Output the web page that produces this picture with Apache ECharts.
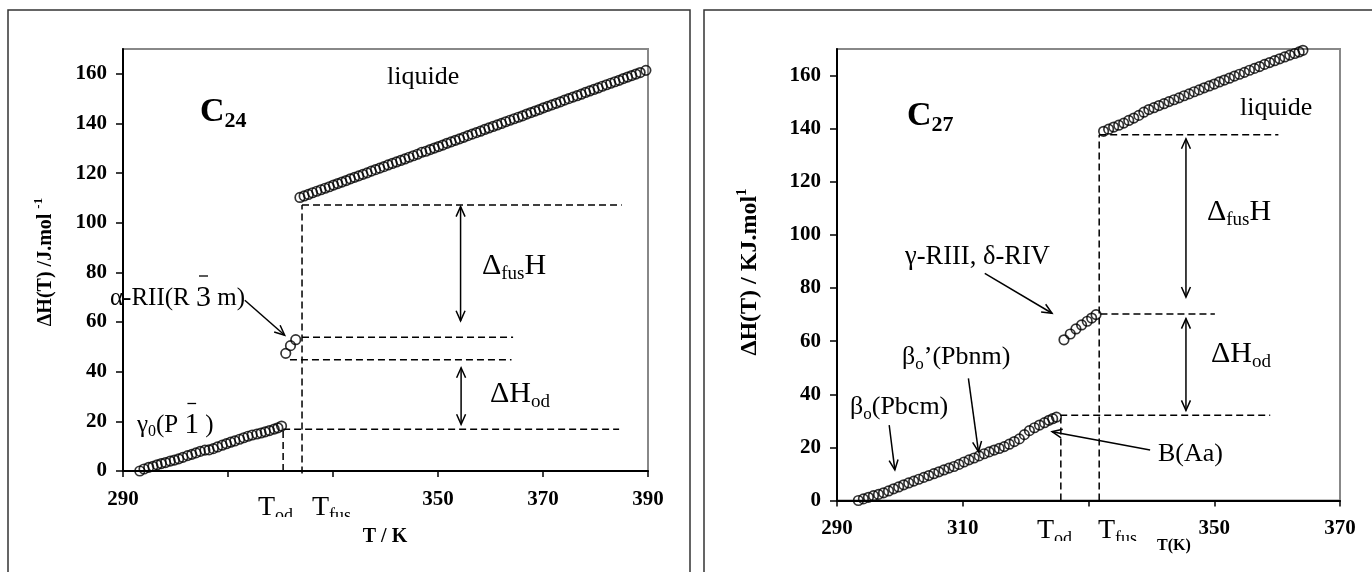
<!DOCTYPE html>
<html><head><meta charset="utf-8">
<script src="https://cdn.jsdelivr.net/npm/echarts@6/dist/echarts.min.js"></script>
<style>html,body{margin:0;padding:0;background:#fff}#c{width:1372px;height:572px}</style>
</head><body><div id="c"></div>
<script>
// ---------------- DATA ----------------
const yTicks = [0, 20, 40, 60, 80, 100, 120, 140, 160];
const xTicksC24 = [290, 310, 330, 350, 370, 390];
const xTicksC27 = [290, 310, 330, 350, 370];
const hiddenXLabelsC24 = [310, 330];
const hiddenXLabelsC27 = [330];

// C24 : gamma0 (P-1) solid phase
const c24SolidT = [293.2,294.0,294.9,295.7,296.5,297.3,298.1,299.0,299.8,300.6,301.4,302.3,303.1,303.9,304.7,305.6,306.4,307.2,308.0,308.9,309.7,310.5,311.3,312.2,313.0,313.8,314.6,315.5,316.3,317.1,317.9,318.8,319.5,320.2];
const c24SolidH = [0.0,0.8,1.5,1.9,2.5,3.0,3.4,4.0,4.4,4.9,5.5,6.2,6.7,7.3,7.9,8.4,8.5,9.0,9.7,10.4,11.0,11.6,12.1,12.8,13.4,14.0,14.5,14.9,15.3,15.8,16.3,16.9,17.4,18.1];
// C24 : alpha-RII rotator phase
const c24RotT = [321.0, 321.9, 322.9];
const c24RotH = [47.4, 50.5, 52.9];
// C24 : liquid
const c24LiqT = [323.7,324.5,325.3,326.1,326.9,327.7,328.5,329.3,330.1,330.9,331.7,332.5,333.3,334.1,334.9,335.7,336.5,337.3,338.1,338.9,339.7,340.5,341.3,342.1,342.9,343.7,344.5,345.3,346.1,346.9,347.7,348.5,349.3,350.1,350.9,351.7,352.5,353.3,354.1,354.9,355.7,356.5,357.3,358.1,358.9,359.7,360.5,361.3,362.1,362.9,363.7,364.5,365.3,366.1,366.9,367.7,368.5,369.3,370.1,370.9,371.7,372.5,373.3,374.1,374.9,375.7,376.5,377.3,378.1,378.9,379.7,380.5,381.3,382.1,382.9,383.7,384.5,385.3,386.1,386.9,387.7,388.5,389.6];
const c24LiqH = [110.2,110.8,111.4,112.1,112.7,113.3,113.9,114.5,115.2,115.8,116.4,117.0,117.7,118.3,118.9,119.5,120.1,120.8,121.4,122.0,122.6,123.3,123.9,124.5,125.1,125.7,126.4,127.0,127.6,128.4,128.8,129.5,130.1,130.7,131.3,132.0,132.6,133.2,133.8,134.4,135.1,135.7,136.3,136.9,137.6,138.2,138.8,139.4,140.0,140.7,141.3,141.9,142.5,143.1,143.8,144.4,145.0,145.6,146.3,146.9,147.5,148.1,148.7,149.4,150.0,150.6,151.2,151.8,152.5,153.1,153.7,154.3,155.0,155.6,156.2,156.8,157.4,158.1,158.7,159.3,159.9,160.5,161.4];
// C24 : dashed guide segments [T1, H1, T2, H2]
const c24Guides = [
  [320.5, 0, 320.5, 16.8],
  [320.5, 16.8, 384.5, 16.8],
  [324.1, -1, 324.1, 107.2],
  [324.1, 107.2, 385.0, 107.2],
  [324.1, 53.9, 364.3, 53.9],
  [321.8, 44.8, 364.0, 44.8]
];
// C24 : arrows [T1, H1, T2, H2, heads(1=end,2=both)]
const c24Arrows = [
  [313.2, 68.8, 320.8, 54.7, 1],
  [354.3, 106.5, 354.3, 60.5, 2],
  [354.4, 41.6, 354.4, 18.8, 2]
];

// C27 : beta solid phases
const c27SolidT = [293.4,294.2,295.0,295.8,296.6,297.4,298.2,299.0,299.8,300.6,301.4,302.2,303.0,303.8,304.6,305.4,306.2,307.0,307.8,308.6,309.4,310.2,311.0,311.8,312.6,313.4,314.2,315.0,315.8,316.6,317.4,318.2,319.0,319.8,320.6,321.4,322.2,323.0,323.7,324.3,324.9];
const c27SolidH = [0.0,0.6,1.2,1.8,2.3,2.9,3.6,4.4,5.1,5.9,6.6,7.3,8.0,8.7,9.4,10.1,10.8,11.5,12.2,12.8,13.6,14.5,15.3,16.0,16.8,17.6,18.3,19.0,19.6,20.3,21.2,22.2,23.2,24.8,26.3,27.4,28.4,29.3,30.2,30.8,31.4];
// C27 : gamma-RIII, delta-RIV rotator phases
const c27RotT = [326.1, 327.1, 328.0, 328.9, 329.8, 330.5, 331.2];
const c27RotH = [60.5, 62.7, 64.6, 66.1, 67.5, 68.7, 70.0];
// C27 : liquid
const c27LiqT = [332.4,333.2,334.0,334.8,335.6,336.4,337.2,338.0,338.8,339.6,340.4,341.2,342.0,342.8,343.6,344.4,345.2,346.0,346.8,347.6,348.4,349.2,350.0,350.8,351.6,352.4,353.2,354.0,354.8,355.6,356.4,357.2,358.0,358.8,359.6,360.4,361.2,362.0,362.8,363.5,364.1];
const c27LiqH = [139.0,139.8,140.6,141.3,142.1,143.1,144.0,145.0,146.2,147.2,147.9,148.7,149.4,150.2,150.9,151.6,152.4,153.1,153.9,154.6,155.4,156.1,156.8,157.6,158.3,159.0,159.8,160.5,161.2,162.0,162.7,163.4,164.2,164.9,165.6,166.3,167.0,167.7,168.3,168.9,169.5];
const c27Guides = [
  [331.7, 0, 331.7, 137.7],
  [331.7, 137.7, 360.2, 137.7],
  [331.9, 70.2, 350.1, 70.2],
  [325.5, 32.1, 358.9, 32.1],
  [325.6, 0, 325.6, 31.0]
];
const c27Arrows = [
  [313.5, 85.5, 324.2, 70.5, 1],
  [310.9, 46.0, 312.5, 18.4, 1],
  [298.3, 28.4, 299.2, 11.5, 1],
  [339.8, 19.0, 324.2, 25.9, 1],
  [345.5, 136.2, 345.5, 76.6, 2],
  [345.5, 68.5, 345.5, 33.9, 2]
];

// ---------------- RENDER ----------------
const FONT = '"Liberation Serif","Times New Roman",serif';
const zip = (a, b) => a.map((v, i) => [v, b[i]]);
const chart = echarts.init(document.getElementById('c'), null, {renderer: 'canvas'});

const tickFont = {color: '#000', fontFamily: FONT, fontWeight: 'bold', fontSize: 21};
function makeX(gi, ticks, hidden) {
  return {type: 'value', gridIndex: gi, min: ticks[0], max: ticks[ticks.length - 1], interval: 20,
    axisLine: {show: true, onZero: false, lineStyle: {color: '#000', width: 2}},
    axisTick: {show: true, inside: false, length: 6, lineStyle: {color: '#000', width: 1.5}},
    axisLabel: Object.assign({}, tickFont, {margin: 18, formatter: v => hidden.includes(v) ? '' : String(v)}),
    splitLine: {show: false}};
}
function makeY(gi) {
  return {type: 'value', gridIndex: gi, min: 0, max: 170,
    axisLine: {show: true, onZero: false, lineStyle: {color: '#000', width: 2}},
    axisTick: {show: true, inside: false, length: 7, customValues: yTicks, lineStyle: {color: '#000', width: 1.5}},
    axisLabel: Object.assign({}, tickFont, {margin: 16, customValues: yTicks}),
    splitLine: {show: false}};
}
function pts(gi, T, H) {
  return {type: 'scatter', xAxisIndex: gi, yAxisIndex: gi, data: zip(T, H), symbol: 'circle', symbolSize: 9.5,
    itemStyle: {color: 'rgba(0,0,0,0)', borderColor: '#000', borderWidth: 1.7}, silent: true, z: 4};
}
function guides(gi, data) {
  return {type: 'custom', xAxisIndex: gi, yAxisIndex: gi, data: data, clip: false, silent: true, z: 3,
    encode: {x: [0, 2], y: [1, 3]},
    renderItem: (p, api) => {
      const a = api.coord([api.value(0), api.value(1)]);
      const b = api.coord([api.value(2), api.value(3)]);
      return {type: 'line', shape: {x1: a[0], y1: a[1], x2: b[0], y2: b[1]},
        style: {stroke: '#000', lineWidth: 1.5, lineDash: [7, 4], fill: null}};
    }};
}
function arrows(gi, data) {
  return {type: 'custom', xAxisIndex: gi, yAxisIndex: gi, data: data, clip: false, silent: true, z: 5,
    encode: {x: [0, 2], y: [1, 3]},
    renderItem: (p, api) => {
      const a = api.coord([api.value(0), api.value(1)]);
      const b = api.coord([api.value(2), api.value(3)]);
      const both = api.value(4) === 2;
      const ch = [{type: 'line', shape: {x1: a[0], y1: a[1], x2: b[0], y2: b[1]}, style: {stroke: '#000', lineWidth: 1.5}}];
      const head = (tip, from) => {
        const ang = Math.atan2(tip[1] - from[1], tip[0] - from[0]);
        const L = 11, s = 0.42;
        ch.push({type: 'polyline', shape: {points: [
          [tip[0] - L * Math.cos(ang - s), tip[1] - L * Math.sin(ang - s)], tip,
          [tip[0] - L * Math.cos(ang + s), tip[1] - L * Math.sin(ang + s)]]},
          style: {stroke: '#000', lineWidth: 1.5, fill: null}});
      };
      head(b, a); if (both) head(a, b);
      return {type: 'group', children: ch};
    }};
}

// text helper (pixel layout)
const mctx = document.createElement('canvas').getContext('2d');
function tw(t, size, bold) { mctx.font = (bold ? 'bold ' : '') + size + 'px ' + FONT; return mctx.measureText(t).width; }
// parts: [text, size, bold, dy, overlineGap]
function rich(x, y, parts, opt) {
  opt = opt || {};
  const ws = parts.map(p => tw(p[0], p[1], p[2]));
  const total = ws.reduce((s, v) => s + v, 0);
  let cx = opt.center ? -total / 2 : 0;
  const children = [];
  parts.forEach((p, i) => {
    children.push({type: 'text', x: cx, y: p[3] || 0,
      style: {text: p[0], fill: '#000', fontSize: p[1], fontFamily: FONT, fontWeight: p[2] ? 'bold' : 'normal', align: 'left', verticalAlign: 'middle'}});
    if (p[4]) {
      const yy = (p[3] || 0) - p[1] * 0.5 - p[4];
      children.push({type: 'line', shape: {x1: cx + ws[i] * 0.2, y1: yy, x2: cx + ws[i] * 0.8, y2: yy}, style: {stroke: '#000', lineWidth: 1.3}});
    }
    cx += ws[i];
  });
  return {type: 'group', x: x, y: y, rotation: opt.rot || 0, children: children, z: 10};
}

const graphics = [
  {type: 'rect', shape: {x: 8, y: 10, width: 682, height: 620}, style: {fill: null, stroke: '#333', lineWidth: 1.5}, z: 1},
  {type: 'rect', shape: {x: 704, y: 10, width: 720, height: 620}, style: {fill: null, stroke: '#333', lineWidth: 1.5}, z: 1},
  // ---- C24 ----
  rich(200, 112, [['C', 34, true, 0], ['24', 22, true, 9]]),
  rich(387, 77, [['liquide', 26, false, 0]]),
  rich(110, 298, [['α-RII(R ', 25, false, 0], ['3', 30, false, 0, 7], [' m)', 25, false, 0]]),
  rich(137, 425, [['γ', 25, false, 0], ['0', 16, false, 7], ['(P ', 25, false, 0], ['1', 29, false, 0, 7], [' )', 25, false, 0]]),
  rich(482, 266, [['Δ', 30, false, 0], ['fus', 19, false, 8], ['H', 30, false, 0]]),
  rich(490, 394, [['ΔH', 30, false, 0], ['od', 19, false, 8]]),
  rich(258, 507.5, [['T', 28, false, 0], ['od', 18, false, 8.5]]),
  rich(312, 507.5, [['T', 28, false, 0], ['fus', 18, false, 8.5]]),
  {type: 'rect', shape: {x: 250, y: 517, width: 110, height: 12}, style: {fill: '#fff'}, z: 20},
  rich(385, 537, [['T / K', 20, true, 0]], {center: true}),
  rich(46, 262, [['ΔH(T) /J.mol ', 20, true, 0], ['-1', 13, true, -7]], {center: true, rot: Math.PI / 2}),
  // ---- C27 ----
  rich(907, 116, [['C', 34, true, 0], ['27', 22, true, 9]]),
  rich(1240, 108, [['liquide', 26, false, 0]]),
  rich(1207, 212, [['Δ', 30, false, 0], ['fus', 19, false, 8], ['H', 30, false, 0]]),
  rich(1211, 354, [['ΔH', 30, false, 0], ['od', 19, false, 8]]),
  rich(905, 257, [['γ-RIII, δ-RIV', 26.5, false, 0]]),
  rich(902, 357, [['β', 26, false, 0], ['o', 17, false, 8], ['’(Pbnm)', 26, false, 0]]),
  rich(850, 407, [['β', 26, false, 0], ['o', 17, false, 8], ['(Pbcm)', 26, false, 0]]),
  rich(1158, 454, [['B(Aa)', 26, false, 0]]),
  rich(1037, 531, [['T', 28, false, 0], ['od', 18, false, 8.5]]),
  rich(1098, 531, [['T', 28, false, 0], ['fus', 18, false, 8.5]]),
  {type: 'rect', shape: {x: 1030, y: 541, width: 120, height: 14}, style: {fill: '#fff'}, z: 20},
  rich(1174, 546, [['T(K)', 16, true, 0]], {center: true}),
  rich(750, 272, [['ΔH(T) / KJ.mol', 24, true, 0], ['1', 15, true, -8]], {center: true, rot: Math.PI / 2})
];

chart.setOption({
  animation: false,
  backgroundColor: '#fff',
  grid: [
    {left: 123, top: 49, width: 525, height: 422, show: true, borderColor: '#888', borderWidth: 2, backgroundColor: 'transparent'},
    {left: 837, top: 49, width: 503, height: 451.5, show: true, borderColor: '#888', borderWidth: 2, backgroundColor: 'transparent'}
  ],
  xAxis: [makeX(0, xTicksC24, hiddenXLabelsC24), makeX(1, xTicksC27, hiddenXLabelsC27)],
  yAxis: [makeY(0), makeY(1)],
  series: [
    guides(0, c24Guides), arrows(0, c24Arrows),
    pts(0, c24SolidT, c24SolidH), pts(0, c24RotT, c24RotH), pts(0, c24LiqT, c24LiqH),
    guides(1, c27Guides), arrows(1, c27Arrows),
    pts(1, c27SolidT, c27SolidH), pts(1, c27RotT, c27RotH), pts(1, c27LiqT, c27LiqH)
  ],
  graphic: graphics
});
</script></body></html>
